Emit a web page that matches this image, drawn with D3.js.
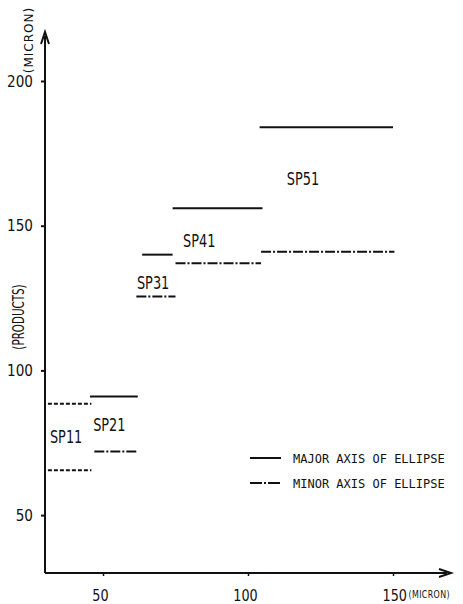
<!DOCTYPE html>
<html>
<head>
<meta charset="utf-8">
<script src="https://cdn.jsdelivr.net/npm/d3@7"></script>
<style>
body { margin: 0; background: #fff; }
text { fill: #111; }
</style>
</head>
<body>
<script>
// specimen data (x in micron, y in micron)
var specimens = ["SP11", "SP21", "SP31", "SP41", "SP51"];
var majorFrom = [31, 45.5, 63.5, 74, 104];
var majorTo   = [46, 62, 74, 105, 150];
var majorVal  = [88.5, 91, 140, 156, 184];
var minorFrom = [31, 47, 61.5, 75, 104.5];
var minorTo   = [46, 62, 75, 104.5, 150.5];
var minorVal  = [65.5, 72, 125.5, 137, 141];
var labelX    = [31.7, 46.6, 61.7, 77.6, 113.4];
var labelY    = [75, 79, 128, 142.6, 164];
var xTicks = [50, 100, 150];
var yTicks = [50, 100, 150, 200];
var legendNames = ["MAJOR AXIS OF ELLIPSE", "MINOR AXIS OF ELLIPSE"];

var width = 463, height = 604;
var narrow = "'DejaVu Sans', sans-serif";
var mono = "'DejaVu Sans Mono', 'Liberation Mono', monospace";

// the scanned lettering is tall and narrow: squeeze text horizontally
// around its own x position
function squeeze(sel, f) {
  sel.each(function () {
    var t = d3.select(this);
    var ax = +t.attr("x") || 0;
    var prev = t.attr("transform") || "";
    t.attr("transform", prev + " translate(" + ax + ",0) scale(" + f + ",1) translate(" + (-ax) + ",0)");
  });
}

var svg = d3.select("body").append("svg")
  .attr("width", width)
  .attr("height", height);

var x = d3.scaleLinear().domain([30, 150]).range([45, 393]);
var y = d3.scaleLinear().domain([30, 200]).range([573, 81]);

// axes lines with arrow heads
svg.append("line")
  .attr("x1", x(30)).attr("y1", y(30))
  .attr("x2", x(30)).attr("y2", 36)
  .attr("stroke", "#111").attr("stroke-width", 2);
svg.append("path")
  .attr("d", "M" + (x(30) - 4) + ",44 L" + x(30) + ",32 L" + (x(30) + 4) + ",44")
  .attr("fill", "none").attr("stroke", "#111").attr("stroke-width", 2);
svg.append("line")
  .attr("x1", x(30)).attr("y1", y(30))
  .attr("x2", 447).attr("y2", y(30))
  .attr("stroke", "#111").attr("stroke-width", 2);
svg.append("path")
  .attr("d", "M439," + (y(30) - 4) + " L451," + y(30) + " L439," + (y(30) + 4))
  .attr("fill", "none").attr("stroke", "#111").attr("stroke-width", 2);

var yAxis = svg.append("g")
  .attr("transform", "translate(" + x(30) + ",0)")
  .call(d3.axisLeft(y).tickValues(yTicks).tickSize(4).tickPadding(8));
yAxis.select(".domain").remove();
yAxis.selectAll("line").attr("stroke", "#111").attr("stroke-width", 2);
yAxis.selectAll("text")
  .style("font-family", narrow).style("font-size", "16px").attr("fill", "#111")
  .call(squeeze, 0.85);

var xAxis = svg.append("g")
  .attr("transform", "translate(0," + y(30) + ")")
  .call(d3.axisBottom(x).tickValues(xTicks).tickSize(3).tickPadding(14)
    .tickFormat(d3.format("d")));
xAxis.select(".domain").remove();
xAxis.selectAll("line").attr("stroke", "#111").attr("stroke-width", 1.5);
var lastTick = xAxis.selectAll(".tick").filter(function (d) { return d === 150; });
xAxis.selectAll("text")
  .style("font-family", narrow).style("font-size", "16px").attr("fill", "#111")
  .attr("x", -3);
lastTick.select("text").attr("text-anchor", "start").attr("x", -11);
xAxis.selectAll("text").call(squeeze, 0.8);

// unit after the last tick label
lastTick.append("text")
  .attr("text-anchor", "start")
  .attr("x", 15)
  .attr("y", 17)
  .attr("dy", "0.71em")
  .attr("fill", "#111")
  .style("font-family", narrow).style("font-size", "11px")
  .style("letter-spacing", "0.5px")
  .text("(MICRON)")
  .call(squeeze, 0.72);

// axis titles
svg.append("text")
  .attr("transform", "translate(33,40) rotate(-90)")
  .attr("text-anchor", "middle")
  .style("font-family", narrow).style("font-size", "12px")
  .style("letter-spacing", "1px")
  .text("(MICRON)");
svg.append("text")
  .attr("transform", "translate(24,317) rotate(-90)")
  .attr("text-anchor", "middle")
  .style("font-family", narrow).style("font-size", "15px")
  .text("(PRODUCTS)")
  .call(squeeze, 0.69);

// specimen segments
var dashMinor = "10,2,2,2";
var dashSP11 = "4,2";

var rows = specimens.map(function (s, i) { return { name: s, i: i }; });

svg.selectAll(".major")
  .data(rows)
  .enter().append("line")
  .attr("class", "major")
  .attr("x1", function (d) { return x(majorFrom[d.i]); })
  .attr("x2", function (d) { return x(majorTo[d.i]); })
  .attr("y1", function (d) { return y(majorVal[d.i]); })
  .attr("y2", function (d) { return y(majorVal[d.i]); })
  .attr("stroke", "#111").attr("stroke-width", 2)
  .attr("stroke-dasharray", function (d) { return d.i === 0 ? dashSP11 : null; });

svg.selectAll(".minor")
  .data(rows)
  .enter().append("line")
  .attr("class", "minor")
  .attr("x1", function (d) { return x(minorFrom[d.i]); })
  .attr("x2", function (d) { return x(minorTo[d.i]); })
  .attr("y1", function (d) { return y(minorVal[d.i]); })
  .attr("y2", function (d) { return y(minorVal[d.i]); })
  .attr("stroke", "#111").attr("stroke-width", 2)
  .attr("stroke-dasharray", function (d) { return d.i === 0 ? dashSP11 : dashMinor; });

svg.selectAll(".sp-label")
  .data(rows)
  .enter().append("text")
  .attr("class", "sp-label")
  .attr("x", function (d) { return x(labelX[d.i]); })
  .attr("y", function (d) { return y(labelY[d.i]); })
  .style("font-family", narrow).style("font-size", "17px")
  .text(function (d) { return d.name; })
  .call(squeeze, 0.76);

// legend
var legend = svg.selectAll(".legend")
  .data(legendNames)
  .enter().append("g")
  .attr("class", "legend")
  .attr("transform", function (d, i) { return "translate(250," + (458 + i * 25) + ")"; });
legend.append("line")
  .attr("x1", 0).attr("x2", 31)
  .attr("stroke", "#111").attr("stroke-width", 2)
  .attr("stroke-dasharray", function (d, i) { return i === 0 ? null : "12,2,2,2"; });
legend.append("text")
  .attr("x", 43).attr("y", 4.5)
  .style("font-family", mono).style("font-size", "12px")
  .text(function (d) { return d; });
</script>
</body>
</html>
